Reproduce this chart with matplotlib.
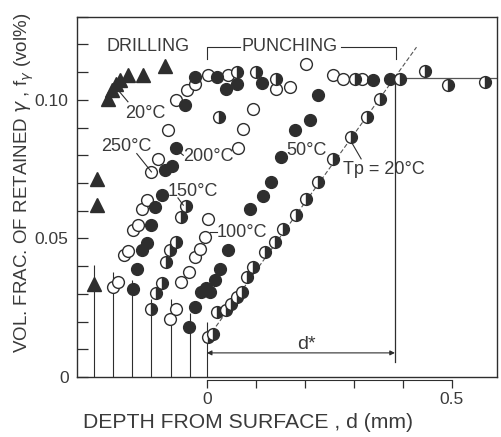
import numpy as np
import matplotlib.pyplot as plt
from matplotlib.ticker import MultipleLocator

plt.rcParams['font.family'] = ['Liberation Sans', 'DejaVu Sans']
ink = '#2e2e2e'
txt = '#3a3a3a'

# drilling (triangles)
drill_x = [-0.225, -0.225, -0.230, -0.202, -0.194, -0.186, -0.178, -0.161, -0.131, -0.086]
drill_y = [0.0715, 0.0621, 0.0336, 0.1004, 0.1036, 0.1058, 0.1072, 0.1090, 0.1090, 0.1123]

# punching, Tp = 250 C (open)
t250_x = [-0.191, -0.181, -0.169, -0.161, -0.150, -0.141, -0.133, -0.123, -0.113, -0.099,
          -0.079, -0.062, -0.041, -0.024, 0.003, 0.043]
t250_y = [0.0325, 0.0343, 0.0440, 0.0455, 0.0531, 0.0549, 0.0606, 0.0639, 0.0740, 0.0787,
          0.0892, 0.1000, 0.1036, 0.1058, 0.1090, 0.1090]

# Tp = 200 C (filled)
t200_x = [-0.150, -0.143, -0.132, -0.123, -0.113, -0.105, -0.092, -0.086, -0.072, -0.062,
          -0.045, -0.024, 0.020, 0.040, 0.061, 0.112]
t200_y = [0.0318, 0.0390, 0.0458, 0.0484, 0.0549, 0.0614, 0.0657, 0.0747, 0.0762, 0.0827,
          0.0982, 0.1083, 0.1083, 0.1040, 0.1058, 0.1061]

# Tp = 150 C (half)
t150_x = [-0.113, -0.103, -0.092, -0.084, -0.076, -0.063, -0.053, -0.043, 0.025, 0.061, 0.101, 0.142]
t150_y = [0.0245, 0.0303, 0.0339, 0.0415, 0.0458, 0.0487, 0.0578, 0.0617, 0.0939, 0.1101, 0.1101, 0.1076]

# Tp = 100 C (open)
t100_x = [-0.076, -0.062, -0.052, -0.036, -0.024, -0.014, -0.004, 0.003, 0.064, 0.074,
          0.094, 0.142, 0.169, 0.203, 0.258, 0.278, 0.316]
t100_y = [0.0209, 0.0245, 0.0343, 0.0379, 0.0433, 0.0462, 0.0505, 0.0570, 0.0827, 0.0895,
          0.0968, 0.1040, 0.1047, 0.1130, 0.1090, 0.1076, 0.1076]

# Tp = 50 C (filled)
t50_x = [-0.036, -0.024, -0.011, -0.001, 0.006, 0.016, 0.027, 0.043, 0.088, 0.115,
         0.132, 0.152, 0.180, 0.210, 0.227, 0.339, 0.373]
t50_y = [0.0181, 0.0253, 0.0307, 0.0321, 0.0307, 0.0350, 0.0390, 0.0458, 0.0606, 0.0653,
         0.0704, 0.0794, 0.0892, 0.0928, 0.1018, 0.1072, 0.1076]

# Tp = 20 C (half)
t20_x = [0.003, 0.013, 0.020, 0.040, 0.050, 0.061, 0.071, 0.081, 0.094, 0.118, 0.139, 0.156,
         0.183, 0.203, 0.227, 0.258, 0.295, 0.326, 0.353, 0.394, 0.302, 0.445, 0.492, 0.567]
t20_y = [0.0144, 0.0155, 0.0235, 0.0242, 0.0264, 0.0289, 0.0307, 0.0361, 0.0397, 0.0451, 0.0487, 0.0534,
         0.0585, 0.0643, 0.0704, 0.0787, 0.0866, 0.0939, 0.1004, 0.1076, 0.1076, 0.1105, 0.1054, 0.1065]

# drop lines from the bottom to the first points
drop_x = [-0.231, -0.192, -0.152, -0.113, -0.074, -0.035, 0.0]
drop_top = [0.0404, 0.038, 0.035, 0.028, 0.028, 0.023, 0.020]

d_star = 0.384
plateau = 0.108

fig = plt.figure(figsize=(5.01, 4.37), dpi=100)
ax = fig.add_axes([0.1537, 0.1373, 0.838, 0.8245])

ax.vlines(drop_x, 0, drop_top, color=ink, lw=0.8)

# fit lines
ax.plot([-0.005, 0.428], [0.0124, 0.119], color='#555555', lw=0.8, dashes=(4, 2))
ax.plot([d_star, 0.592], [plateau, plateau], color='#555555', lw=0.9)
ax.plot([d_star, d_star], [0.0054, plateau], color=ink, lw=0.9)
ax.annotate('', xy=(0.0, 0.0087), xytext=(d_star, 0.0087),
            arrowprops=dict(arrowstyle='<|-|>', color=ink, lw=0.8, mutation_scale=7,
                            shrinkA=0, shrinkB=0))
ax.text(0.204, 0.0118, 'd*', ha='center', va='center', fontsize=14, color=txt)

ms = 8.5
ax.plot(drill_x, drill_y, '^', color=ink, ms=9.5, ls='none')
for xs, ys in [(t250_x, t250_y), (t100_x, t100_y)]:
    ax.plot(xs, ys, 'o', mfc='white', mec=ink, mew=1.0, ms=ms, ls='none')
for xs, ys in [(t200_x, t200_y), (t50_x, t50_y)]:
    ax.plot(xs, ys, 'o', mfc=ink, mec=ink, mew=1.0, ms=ms, ls='none')
for xs, ys in [(t150_x, t150_y), (t20_x, t20_y)]:
    ax.plot(xs, ys, 'o', fillstyle='right', mfc=ink, mfcalt='white', mec=ink, mew=1.0,
            ms=ms, ls='none')

# labels
fs = 13
ax.text(-0.120, 0.1191, 'DRILLING', ha='center', va='center', fontsize=fs, color=txt)
ax.text(0.169, 0.1191, 'PUNCHING', ha='center', va='center', fontsize=fs, color=txt)
ax.plot([0.0, 0.0, 0.068], [0.1148, 0.1191, 0.1191], color=ink, lw=0.8)
ax.plot([0.274, 0.386, 0.386], [0.1191, 0.1191, 0.1148], color=ink, lw=0.8)

ax.text(-0.167, 0.0950, '20°C', ha='left', va='center', fontsize=fs, color=txt)
ax.plot([-0.181, -0.161], [0.1035, 0.0993], color=ink, lw=0.8)
ax.text(-0.215, 0.0830, '250°C', ha='left', va='center', fontsize=fs, color=txt)
ax.plot([-0.143, -0.113], [0.0806, 0.0740], color=ink, lw=0.8)
ax.text(-0.048, 0.0794, '200°C', ha='left', va='center', fontsize=fs, color=txt)
ax.plot([-0.065, -0.048], [0.0824, 0.0800], color=ink, lw=0.8)
ax.text(-0.079, 0.0671, '150°C', ha='left', va='center', fontsize=fs, color=txt)
ax.plot([-0.059, -0.048], [0.0646, 0.0620], color=ink, lw=0.8)
ax.text(0.020, 0.0523, '100°C', ha='left', va='center', fontsize=fs, color=txt)
ax.plot([0.006, 0.020], [0.0523, 0.0523], color=ink, lw=0.8)
ax.text(0.163, 0.0819, '50°C', ha='left', va='center', fontsize=fs, color=txt)
ax.text(0.278, 0.0747, 'Tp = 20°C', ha='left', va='center', fontsize=fs, color=txt)
ax.plot([0.295, 0.315], [0.0848, 0.0787], color=ink, lw=0.8)

ax.set_xlim(-0.265, 0.592)
ax.set_ylim(0, 0.13)
ax.set_xticks([])
ax.set_yticks([0, 0.05, 0.10], ['0', '0.05', '0.10'])
ax.yaxis.set_minor_locator(MultipleLocator(0.01))
ax.tick_params(axis='y', which='both', direction='in', length=8, width=0.9, colors=ink,
               labelsize=12.5, labelcolor=txt, pad=6)
for s in ax.spines.values():
    s.set_color(ink)
    s.set_linewidth(1.0)

sec = ax.secondary_xaxis(-0.008)
sec.spines['bottom'].set_bounds(0, 0.5)
sec.spines['bottom'].set_color(ink)
sec.set_xticks(np.arange(0, 0.51, 0.1), ['0', '', '', '', '', '0.5'])
sec.tick_params(direction='out', length=6, width=0.9, colors=ink, labelsize=12.5,
                labelcolor=txt, pad=3)

fig.text(248 / 501, 1 - 422 / 437, 'DEPTH FROM SURFACE , d (mm)', ha='center', va='center',
         fontsize=15.2, color=txt)
ax.set_ylabel(r'VOL. FRAC. OF RETAINED $\gamma$ , f$_{\gamma}$ (vol%)', fontsize=13.5,
              color=txt)
ax.yaxis.set_label_coords(-0.098, 0.539)

fig.savefig('out.png', dpi=100)
